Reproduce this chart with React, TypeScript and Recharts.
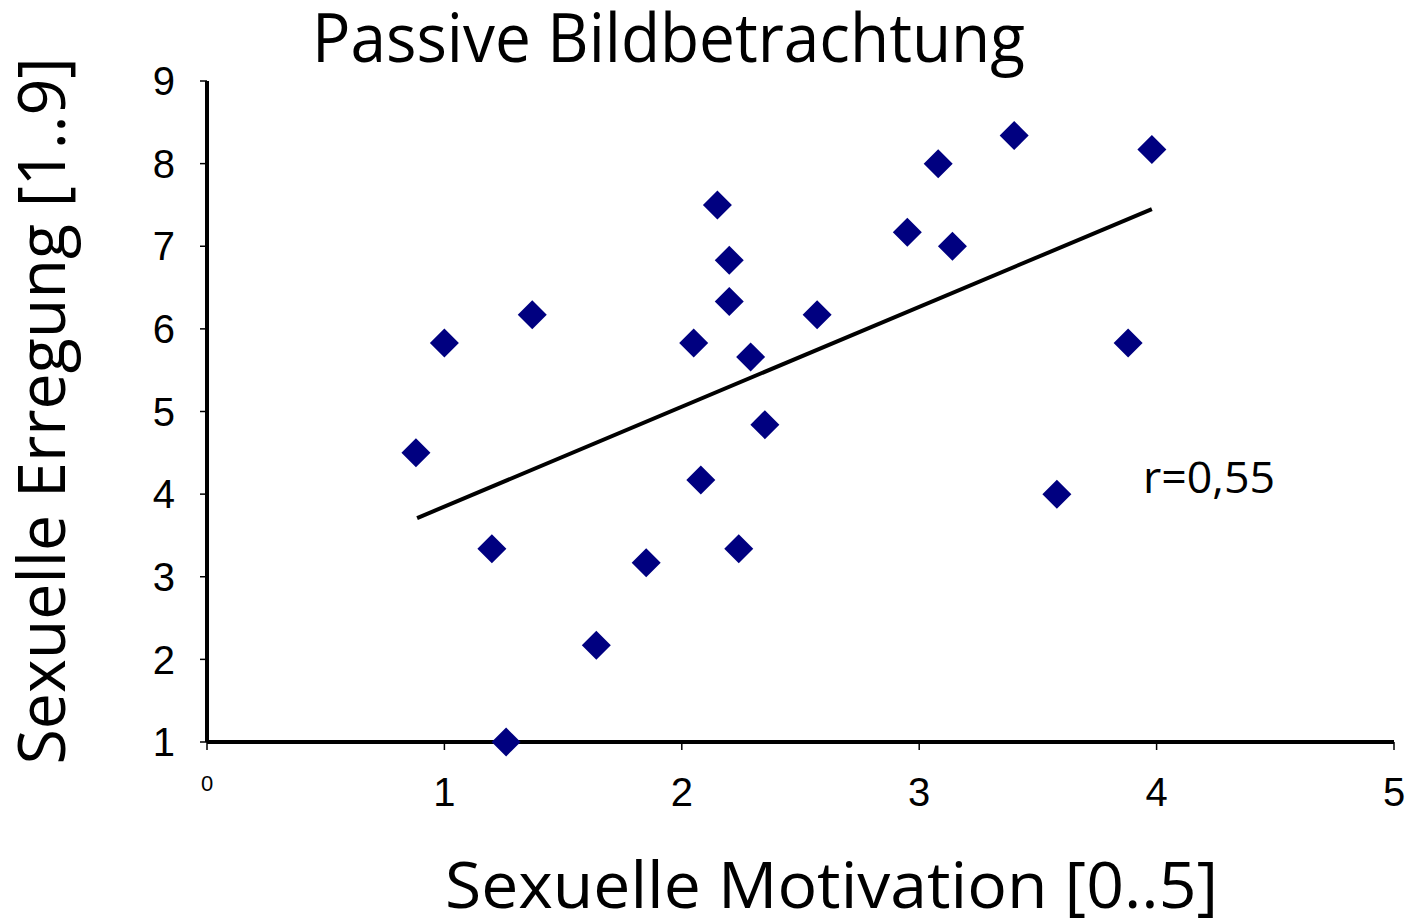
import React from 'react';
import { ScatterChart, Scatter, XAxis, YAxis, ReferenceLine, Customized } from 'recharts';

// Motivation (x) vs. arousal (y)
const motivation = [0.88, 1.0, 1.2, 1.26, 1.37, 1.64, 1.85, 2.05, 2.08, 2.15, 2.2, 2.2, 2.24, 2.29, 2.35, 2.57, 2.95, 3.08, 3.14, 3.4, 3.58, 3.88, 3.98];
const arousal = [4.5, 5.83, 3.34, 1.0, 6.17, 2.17, 3.17, 5.83, 4.17, 7.5, 6.83, 6.33, 3.34, 5.66, 4.84, 6.17, 7.17, 8.0, 7.0, 8.34, 4.0, 5.83, 8.17];

// Regression line end points
const trendX = [0.885, 3.98];
const trendY = [3.71, 7.45];

const xTicks = [0, 1, 2, 3, 4, 5];
const yTicks = [1, 2, 3, 4, 5, 6, 7, 8, 9];

const points = motivation.map((x, i) => ({ x, y: arousal[i] }));

const W = 1412;
const H = 918;
const labelFont = '"Open Sans", sans-serif';
const tickFont = '"Liberation Sans", Arial, sans-serif';

const Diamond = (props: any) => {
  const { cx, cy } = props;
  const r = 14.5;
  return (
    <path
      d={`M${cx},${cy - r} L${cx + r},${cy} L${cx},${cy + r} L${cx - r},${cy} Z`}
      fill="#000080"
    />
  );
};

const XTick = (props: any) => {
  const { x, y, payload } = props;
  const zero = payload.value === 0;
  return (
    <text
      x={x}
      y={zero ? y - 3 : y}
      dy="0.71em"
      textAnchor="middle"
      fontFamily={tickFont}
      fontSize={zero ? 22 : 40}
      fill="#000"
    >
      {payload.value}
    </text>
  );
};

const Labels = () => (
  <g fill="#000" fontFamily={labelFont}>
    <text x={312} y={62} fontSize={67} textLength={713} lengthAdjust="spacingAndGlyphs">
      Passive Bildbetrachtung
    </text>
    <text x={445} y={908} fontSize={64} textLength={773} lengthAdjust="spacingAndGlyphs">
      Sexuelle Motivation [0..5]
    </text>
    <text
      x={65}
      y={411}
      fontSize={66}
      textAnchor="middle"
      transform="rotate(-90, 65, 411)"
      textLength={707}
      lengthAdjust="spacingAndGlyphs"
    >
      Sexuelle Erregung [1..9]
    </text>
    <text x={1143} y={493} fontSize={43} textLength={132} lengthAdjust="spacingAndGlyphs">
      r=0,55
    </text>
  </g>
);

export default function App() {
  return (
    <div style={{ position: 'absolute', left: 0, top: 0, width: W, height: H, background: '#fff' }}>
      <ScatterChart width={W} height={H} margin={{ top: 81, right: 18, bottom: 76, left: 0 }}>
        <XAxis
          type="number"
          dataKey="x"
          domain={[0, 5]}
          ticks={xTicks}
          interval={0}
          height={100}
          axisLine={{ stroke: '#000', strokeWidth: 4 }}
          tickLine={{ stroke: '#000', strokeWidth: 1.5 }}
          tickSize={8}
          tickMargin={28}
          tick={<XTick />}
        />
        <YAxis
          type="number"
          dataKey="y"
          domain={[1, 9]}
          ticks={yTicks}
          interval={0}
          width={207}
          axisLine={{ stroke: '#000', strokeWidth: 4 }}
          tickLine={{ stroke: '#000', strokeWidth: 1.5 }}
          tickSize={7}
          tickMargin={25}
          tick={{ fill: '#000', fontSize: 40, fontFamily: tickFont }}
        />
        <ReferenceLine
          segment={[
            { x: trendX[0], y: trendY[0] },
            { x: trendX[1], y: trendY[1] },
          ]}
          stroke="#000"
          strokeWidth={4}
          ifOverflow="visible"
        />
        <Scatter data={points} shape={<Diamond />} isAnimationActive={false} />
        <Customized component={<Labels />} />
      </ScatterChart>
    </div>
  );
}
